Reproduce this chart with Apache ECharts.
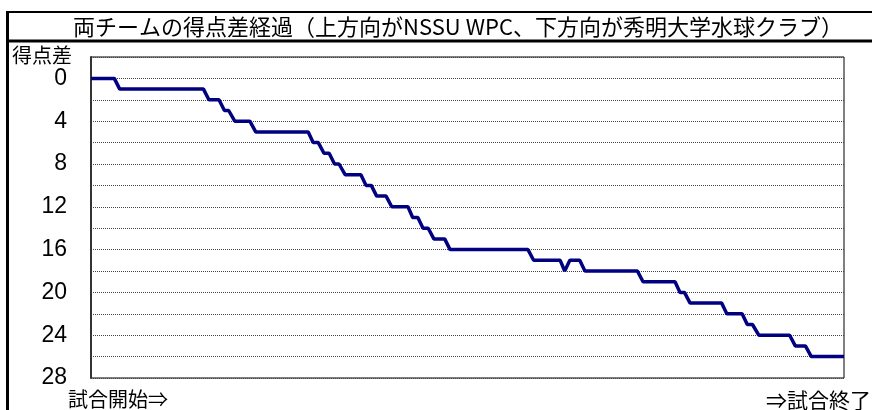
<!DOCTYPE html>
<html>
<head>
<meta charset="utf-8">
<script src="https://cdn.jsdelivr.net/npm/echarts@6/dist/echarts.min.js"></script>
<style>
  html, body { margin: 0; padding: 0; background: #fff; }
  #chart { width: 872px; height: 410px; }
</style>
</head>
<body>
<div id="chart"></div>
<script>
// Elapsed game time (minutes, 0–32) at each corner of the score-difference line
const times = [
  0, 0.99, 1.22, 4.78, 5.01, 5.44, 5.67, 5.85, 6.11, 6.75,
  7.00, 9.23, 9.44, 9.66, 9.90, 10.12, 10.35, 10.54, 10.80, 11.47,
  11.69, 11.91, 12.14, 12.54, 12.78, 13.47, 13.67, 13.89, 14.11, 14.33,
  14.57, 15.03, 15.26, 18.57, 18.81, 19.94, 20.13, 20.35, 20.77, 20.99,
  23.22, 23.46, 24.82, 25.03, 25.22, 25.46, 26.80, 27.02, 27.67, 27.89,
  28.11, 28.38, 29.69, 29.93, 30.36, 30.61, 32.00
];
// Score difference (downward = 秀明大学水球クラブ leading)
const scoreDiff = [
  0, 0, 1, 1, 2, 2, 3, 3, 4, 4,
  5, 5, 6, 6, 7, 7, 8, 8, 9, 9,
  10, 10, 11, 11, 12, 12, 13, 13, 14, 14,
  15, 15, 16, 16, 17, 17, 18, 17, 17, 18,
  18, 19, 19, 20, 20, 21, 21, 22, 22, 23,
  23, 24, 24, 25, 25, 26, 26
];
const yLabels = [0, 4, 8, 12, 16, 20, 24, 28];

const titleText = '両チームの得点差経過（上方向がNSSU WPC、下方向が秀明大学水球クラブ）';
const yAxisName = '得点差';
const startLabel = '試合開始⇒';
const endLabel = '⇒試合終了';

const FONT = '"Noto Sans CJK JP", "Noto Sans", sans-serif';
const NUMFONT = '"Liberation Sans", Arial, sans-serif';
const chart = echarts.init(document.getElementById('chart'));

chart.setOption({
  animation: false,
  backgroundColor: '#fff',
  grid: {
    left: 91, right: 28, top: 57, bottom: 32,
    show: true, borderColor: '#000', borderWidth: 1, backgroundColor: '#fff'
  },
  xAxis: {
    type: 'value', min: 0, max: 32,
    axisLine: { show: false }, axisTick: { show: false },
    axisLabel: { show: false }, splitLine: { show: false }
  },
  yAxis: {
    type: 'value', inverse: true, min: -2, max: 28, interval: 2,
    axisLine: { show: true, lineStyle: { color: '#333', width: 2 } },
    axisTick: { show: false },
    axisLabel: {
      margin: 24, fontSize: 23, color: '#000', fontFamily: NUMFONT,
      formatter: v => (yLabels.indexOf(v) >= 0 ? String(v) : ''),
      padding: [4, 0, 0, 0]
    },
    splitLine: { show: true, lineStyle: { color: '#444', width: 1, type: [1, 1] } }
  },
  series: [{
    type: 'line',
    data: times.map((t, i) => [t, scoreDiff[i]]),
    symbol: 'none',
    lineStyle: { color: '#000080', width: 3.5 },
    z: 5
  }],
  graphic: [
    { type: 'rect', shape: { x: 6, y: 11, width: 870, height: 2 }, style: { fill: '#000' }, silent: true },
    { type: 'rect', shape: { x: 6, y: 39.5, width: 870, height: 3 }, style: { fill: '#000' }, silent: true },
    { type: 'rect', shape: { x: 6, y: 11, width: 3, height: 400 }, style: { fill: '#000' }, silent: true },
    { type: 'text', x: 458, y: 27, style: { text: titleText, fontSize: 22, fontFamily: FONT, fill: '#000', align: 'center', verticalAlign: 'middle' } },
    { type: 'text', x: 12, y: 55, style: { text: yAxisName, fontSize: 20, fontFamily: FONT, fill: '#000', align: 'left', verticalAlign: 'middle' } },
    { type: 'text', x: 68, y: 399, style: { text: startLabel, fontSize: 20, fontFamily: FONT, fill: '#000', align: 'left', verticalAlign: 'middle' } },
    { type: 'text', x: 871, y: 400, style: { text: endLabel, fontSize: 21, fontFamily: FONT, fill: '#000', align: 'right', verticalAlign: 'middle' } }
  ]
});
</script>
</body>
</html>
